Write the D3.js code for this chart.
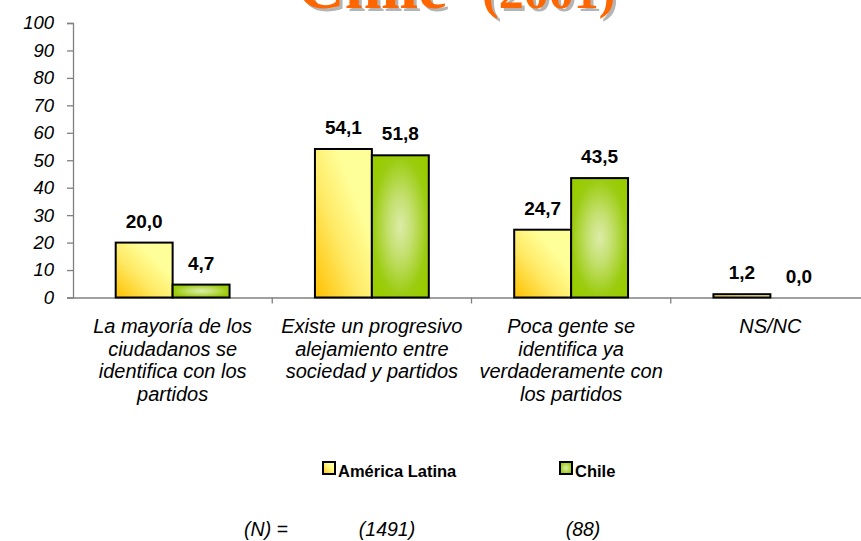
<!DOCTYPE html>
<html>
<head>
<meta charset="utf-8">
<script src="https://cdn.jsdelivr.net/npm/d3@7"></script>
<style>
  html, body { margin: 0; padding: 0; background: #ffffff; }
  svg { display: block; }
</style>
</head>
<body>
<div id="chart"></div>
<script>
// ---- data ----
const categories = ["c1", "c2", "c3", "c4"];
const categoryLabels = [
  ["La mayoría de los", "ciudadanos se", "identifica con los", "partidos"],
  ["Existe un progresivo", "alejamiento entre", "sociedad y partidos"],
  ["Poca gente se", "identifica ya", "verdaderamente con", "los partidos"],
  ["NS/NC"]
];
const seriesNames = ["América Latina", "Chile"];
const americaLatina = [20.0, 54.1, 24.7, 1.2];
const chile = [4.7, 51.8, 43.5, 0.0];
const yTicks = [0, 10, 20, 30, 40, 50, 60, 70, 80, 90, 100];
const sampleLabel = "(N) =";
const sampleSizes = ["(1491)", "(88)"];
const titleMain = "Chile";
const titleYear = "(2001)";

// ---- layout ----
const W = 861, H = 541;
const svg = d3.select("#chart").append("svg").attr("width", W).attr("height", H);
const defs = svg.append("defs");

// gradients
const gy = defs.append("linearGradient").attr("id", "gYellow")
  .attr("x1", "0").attr("y1", "1").attr("x2", "1").attr("y2", "0");
gy.append("stop").attr("offset", "0").attr("stop-color", "#FFC000");
gy.append("stop").attr("offset", "0.4").attr("stop-color", "#FFEA66");
gy.append("stop").attr("offset", "0.7").attr("stop-color", "#FFFF99");
gy.append("stop").attr("offset", "1").attr("stop-color", "#FFFF99");

const gg = defs.append("radialGradient").attr("id", "gGreen")
  .attr("cx", "0.5").attr("cy", "0.5").attr("r", "0.6");
gg.append("stop").attr("offset", "0").attr("stop-color", "#DCECA8");
gg.append("stop").attr("offset", "0.35").attr("stop-color", "#C4E070");
gg.append("stop").attr("offset", "0.8").attr("stop-color", "#9CCC10");
gg.append("stop").attr("offset", "1").attr("stop-color", "#99CC00");

const fills = ["url(#gYellow)", "url(#gGreen)"];
const values = [americaLatina, chile];

const x0 = d3.scaleBand().domain(categories).range([73, 870]).paddingInner(0).paddingOuter(0);
const x1 = d3.scaleBand().domain(seriesNames).range([0, x0.bandwidth()]).paddingInner(0).paddingOuter(0.75);
const y = d3.scaleLinear().domain([0, 100]).range([297.5, 23]);

// title with shadow (cut off at the top edge, as in the original)
function drawTitle(dx, dy, color) {
  const t = svg.append("text")
    .attr("x", 297 + dx).attr("y", 8 + dy)
    .attr("font-family", "'Liberation Serif', 'Times New Roman', serif")
    .attr("font-weight", "bold")
    .attr("fill", color);
  t.append("tspan").attr("font-size", 66).text(titleMain);
  t.append("tspan").attr("x", 482 + dx).attr("font-size", 50).text(titleYear);
}
drawTitle(3, 3, "#B4B4B4");
drawTitle(0, 0, "#FF6600");

// y axis
const yAxis = d3.axisLeft(y).tickValues(yTicks).tickSize(6).tickPadding(13).tickFormat(d3.format("d"));
const gY = svg.append("g").attr("transform", "translate(73,0)").call(yAxis);
gY.select(".domain").attr("stroke", "#808080").attr("stroke-width", 1.3);
gY.selectAll(".tick line").attr("stroke", "#808080").attr("stroke-width", 1.3);
gY.selectAll(".tick text")
  .attr("font-family", "'Liberation Sans', Arial, sans-serif")
  .attr("font-style", "italic").attr("font-size", 18.5).attr("fill", "#000");

// x axis line
const xAxis = d3.axisBottom(x0).tickSize(0).tickFormat("");
const gX = svg.append("g").attr("transform", `translate(0,${y(0)})`).call(xAxis);
gX.select(".domain").attr("stroke", "#808080").attr("stroke-width", 1.3);
// category boundary ticks
gX.selectAll(".bound").data(categories.slice(0, -1)).enter().append("line")
  .attr("x1", d => x0(d) + x0.bandwidth()).attr("x2", d => x0(d) + x0.bandwidth())
  .attr("y1", 0).attr("y2", 6).attr("stroke", "#808080").attr("stroke-width", 1.3);

// bars
const rows = categories.map((c, i) => ({ c, vals: seriesNames.map((s, j) => ({ s, j, v: values[j][i] })) }));
const gBars = svg.append("g").selectAll("g").data(rows).enter().append("g")
  .attr("transform", d => `translate(${x0(d.c)},0)`);
gBars.selectAll("rect").data(d => d.vals.filter(e => e.v > 0)).enter().append("rect")
  .attr("x", d => x1(d.s)).attr("width", x1.bandwidth())
  .attr("y", d => y(d.v)).attr("height", d => y(0) - y(d.v))
  .attr("fill", d => fills[d.j]).attr("stroke", "#000").attr("stroke-width", 2);
gBars.selectAll("text.val").data(d => d.vals).enter().append("text")
  .attr("class", "val")
  .attr("x", d => x1(d.s) + x1.bandwidth() / 2)
  .attr("y", d => y(d.v) - 15)
  .attr("text-anchor", "middle")
  .attr("font-family", "'Liberation Sans', Arial, sans-serif")
  .attr("font-weight", "bold").attr("font-size", 19).attr("fill", "#000")
  .text(d => d3.format(".1f")(d.v).replace(".", ","));

// category labels
svg.append("g").selectAll("text").data(categories).enter().append("text")
  .attr("x", d => x0(d) + x0.bandwidth() / 2)
  .attr("y", 333)
  .attr("text-anchor", "middle")
  .attr("font-family", "'Liberation Sans', Arial, sans-serif")
  .attr("font-style", "italic").attr("font-size", 20).attr("fill", "#000")
  .each(function (d, i) {
    const t = d3.select(this);
    categoryLabels[i].forEach((line, k) => {
      t.append("tspan").attr("x", x0(d) + x0.bandwidth() / 2).attr("dy", k === 0 ? 0 : 22.5).text(line);
    });
  });

// legend
const legendX = [323, 560];
const lg = svg.append("g").selectAll("g").data(seriesNames).enter().append("g")
  .attr("transform", (d, i) => `translate(${legendX[i]},462)`);
lg.append("rect").attr("width", 12).attr("height", 12)
  .attr("fill", (d, i) => fills[i]).attr("stroke", "#000").attr("stroke-width", 2);
lg.append("text").attr("x", 15).attr("y", 15)
  .attr("font-family", "'Liberation Sans', Arial, sans-serif")
  .attr("font-weight", "bold").attr("font-size", 16.5).attr("fill", "#000")
  .text(d => d);

// sample sizes row
const nItems = [sampleLabel].concat(sampleSizes);
const nX = [266, 387, 583];
svg.append("g").selectAll("text").data(nItems).enter().append("text")
  .attr("x", (d, i) => nX[i]).attr("y", 536)
  .attr("text-anchor", "middle")
  .attr("font-family", "'Liberation Sans', Arial, sans-serif")
  .attr("font-style", "italic").attr("font-size", 19.5).attr("fill", "#000")
  .text(d => d);
</script>
</body>
</html>
